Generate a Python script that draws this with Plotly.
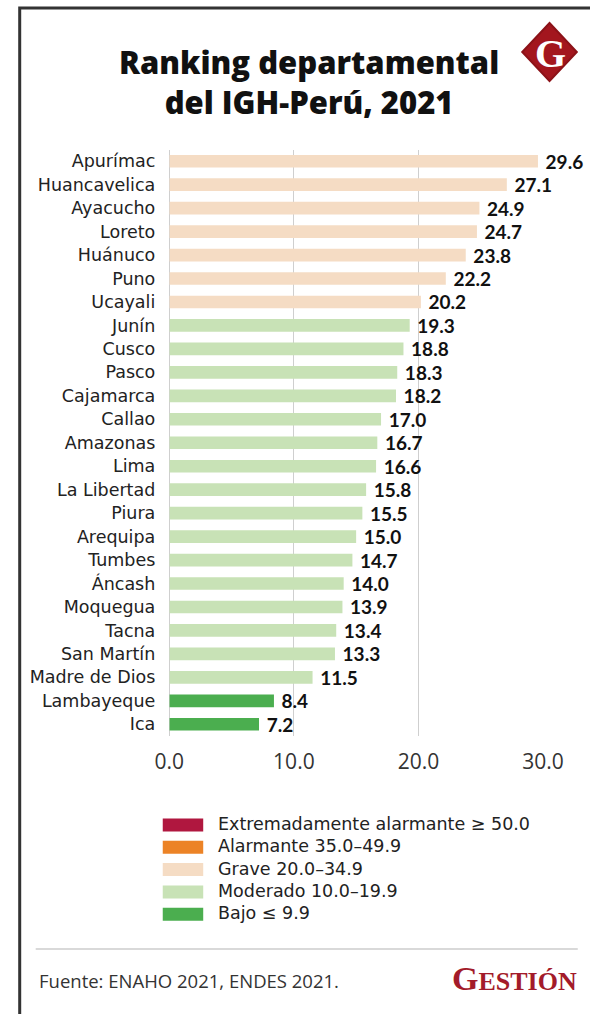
import plotly.graph_objects as go

W, H = 611, 1014

departments = ["Apurímac", "Huancavelica", "Ayacucho", "Loreto", "Huánuco", "Puno", "Ucayali",
               "Junín", "Cusco", "Pasco", "Cajamarca", "Callao", "Amazonas", "Lima", "La Libertad",
               "Piura", "Arequipa", "Tumbes", "Áncash", "Moquegua", "Tacna", "San Martín",
               "Madre de Dios", "Lambayeque", "Ica"]
values = [29.6, 27.1, 24.9, 24.7, 23.8, 22.2, 20.2, 19.3, 18.8, 18.3, 18.2, 17.0, 16.7, 16.6, 15.8,
          15.5, 15.0, 14.7, 14.0, 13.9, 13.4, 13.3, 11.5, 8.4, 7.2]
x_ticks = [0, 10, 20, 30]
x_tick_labels = ["0.0", "10.0", "20.0", "30.0"]

legend_labels = ["Extremadamente alarmante ≥ 50.0", "Alarmante 35.0–49.9", "Grave 20.0–34.9",
                 "Moderado 10.0–19.9", "Bajo ≤ 9.9"]
legend_colors = ["#b0173f", "#ec8326", "#f5dcc4", "#c8e2b6", "#4bae4f"]
legend_thresholds = [50.0, 35.0, 20.0, 10.0, 0.0]

LABEL_FONT = "DejaVu Sans"
VALUE_FONT = "Lato"
TITLE_FONT = "Open Sans"


def color_for(v):
    for t, c in zip(legend_thresholds, legend_colors):
        if v >= t:
            return c
    return legend_colors[-1]


def px(x):
    return x / W


def py(y):
    return 1 - y / H


bar_colors = [color_for(v) for v in values]

fig = go.Figure(go.Bar(
    y=departments, x=values, orientation="h",
    marker=dict(color=bar_colors, line=dict(width=0)),
    width=0.54,
    text=["\u00a0" + f"{v:.1f}" for v in values],
    textposition="outside",
    constraintext="none",
    textfont=dict(family=VALUE_FONT, size=19, color="#111", weight="bold"),
    cliponaxis=False,
    hoverinfo="skip",
))

fig.update_layout(
    width=W, height=H, autosize=False,
    margin=dict(l=0, r=0, t=0, b=0),
    paper_bgcolor="white", plot_bgcolor="white",
    showlegend=False,
    xaxis=dict(domain=[px(164), px(561)], range=[0, 30], tickvals=x_ticks, ticktext=x_tick_labels,
               showgrid=True, gridcolor="#cfcfcf", gridwidth=1, zeroline=True, zerolinecolor="#cfcfcf",
               zerolinewidth=1, showline=False, ticks="", ticklabelstandoff=11,
               tickfont=dict(family=TITLE_FONT, size=21, color="#333")),
    yaxis=dict(domain=[py(736), py(149.5)], autorange="reversed", showgrid=False, showline=False,
               ticks="", ticklabelstandoff=13,
               tickfont=dict(family=LABEL_FONT, size=17.5, color="#222")),
)

shapes = []
# outer frame
shapes.append(dict(type="path", xref="paper", yref="paper",
                   path=f"M {px(5)} {py(1014)} L {px(5)} {py(8)} L {px(611)} {py(8)}",
                   line=dict(color="#333", width=3)))
# logo diamond
cx, cy, r = 568, 52, 29
shapes.append(dict(type="path", xref="paper", yref="paper",
                   path=(f"M {px(cx)} {py(cy - r)} L {px(cx + r)} {py(cy)} "
                         f"L {px(cx)} {py(cy + r)} L {px(cx - r)} {py(cy)} Z"),
                   fillcolor="#a3161e", line=dict(color="#8c1218", width=2)))
# legend patches
for i, c in enumerate(legend_colors):
    yc = 825 + i * 22.3
    shapes.append(dict(type="rect", xref="paper", yref="paper",
                       x0=px(157), x1=px(200), y0=py(yc + 6.5), y1=py(yc - 6.5),
                       fillcolor=c, line=dict(width=0)))
# footer rule
shapes.append(dict(type="line", xref="paper", yref="paper",
                   x0=px(22), x1=px(598), y0=py(949), y1=py(949),
                   line=dict(color="#cccccc", width=1.5)))
fig.update_layout(shapes=shapes)

ann = []
ann.append(dict(text="Ranking departamental<br>del IGH-Perú, 2021", xref="paper", yref="paper",
                x=px(312), y=py(82), xanchor="center", yanchor="middle", showarrow=False,
                font=dict(family=TITLE_FONT, size=31, color="#111", weight=800), align="center"))
ann.append(dict(text="G", xref="paper", yref="paper", x=px(cx + 1), y=py(cy + 1),
                xanchor="center", yanchor="middle", showarrow=False,
                font=dict(family="Liberation Serif", size=40, color="white", weight="bold")))
for i, lab in enumerate(legend_labels):
    yc = 824 + i * 22.3
    ann.append(dict(text=lab, xref="paper", yref="paper", x=px(214), y=py(yc),
                    xanchor="left", yanchor="middle", showarrow=False,
                    font=dict(family=LABEL_FONT, size=17.5, color="#222")))
ann.append(dict(text="Fuente: ENAHO 2021, ENDES 2021.", xref="paper", yref="paper",
                x=px(23), y=py(980), xanchor="left", yanchor="middle", showarrow=False,
                font=dict(family=TITLE_FONT, size=18.5, color="#333")))
ann.append(dict(text="G<span style='font-size:26px'>ESTIÓN</span>", xref="paper", yref="paper",
                x=px(599), y=py(978), xanchor="right", yanchor="middle", showarrow=False,
                font=dict(family="Liberation Serif", size=34, color="#a31b2a", weight="bold")))
fig.update_layout(annotations=ann)

fig.write_html("out.html", config={"responsive": False, "displayModeBar": False},
               post_script="document.body.style.margin='0';document.body.style.overflow='hidden';")
